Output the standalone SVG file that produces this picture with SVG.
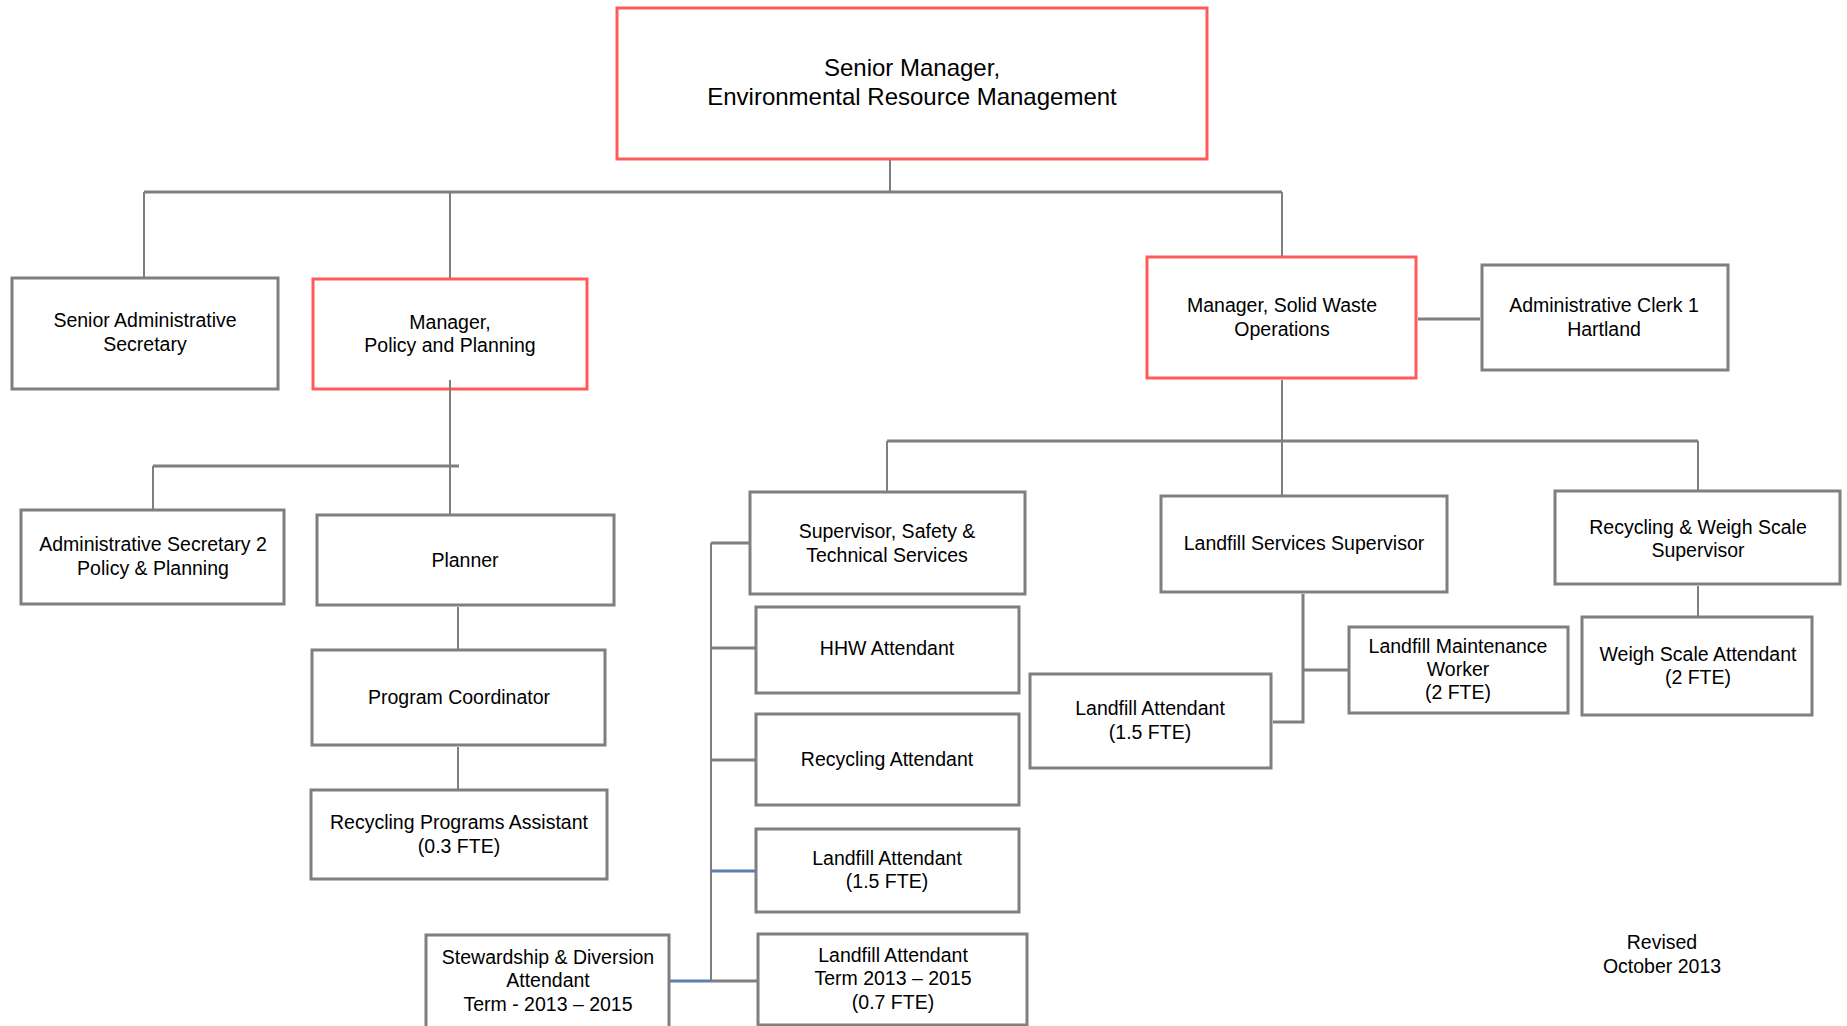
<svg xmlns="http://www.w3.org/2000/svg" width="1847" height="1026" viewBox="0 0 1847 1026">
<style>
.box{fill:#ffffff;stroke:#7f7f7f;stroke-width:3}
.red{fill:#ffffff;stroke:#ff5a5a;stroke-width:3}
text{font-family:"Liberation Sans",Arial,sans-serif;font-size:19.5px;fill:#000;text-anchor:middle}
.big{font-size:24px}
.c{fill:none;stroke:#7f7f7f;stroke-width:3}
.t{fill:none;stroke:#7f7f7f;stroke-width:2}
.b{fill:none;stroke:#5b7fb0;stroke-width:3}
</style>
<rect width="1847" height="1026" fill="#ffffff"/>
<g id="n-senior-manager"><rect class="red" x="617" y="8" width="590" height="151"/><text class="big" x="912" y="76">Senior Manager,</text><text class="big" x="912" y="105">Environmental Resource Management</text></g>
<g id="n-senior-admin-sec"><rect class="box" x="12" y="278" width="266" height="111"/><text x="145" y="327">Senior Administrative</text><text x="145" y="351">Secretary</text></g>
<g id="n-manager-policy"><rect class="red" x="313" y="279" width="274" height="110"/><text x="450" y="329">Manager,</text><text x="450" y="352">Policy and Planning</text></g>
<g id="n-manager-solid-waste"><rect class="red" x="1147" y="257" width="269" height="121"/><text x="1282" y="312">Manager, Solid Waste</text><text x="1282" y="336">Operations</text></g>
<g id="n-admin-clerk"><rect class="box" x="1482" y="265" width="246" height="105"/><text x="1604" y="312">Administrative Clerk 1</text><text x="1604" y="336">Hartland</text></g>
<g id="n-admin-sec-2"><rect class="box" x="21" y="510" width="263" height="94"/><text x="153" y="551">Administrative Secretary 2</text><text x="153" y="575">Policy &amp; Planning</text></g>
<g id="n-planner"><rect class="box" x="317" y="515" width="297" height="90"/><text x="465" y="567">Planner</text></g>
<g id="n-program-coord"><rect class="box" x="312" y="650" width="293" height="95"/><text x="459" y="704">Program Coordinator</text></g>
<g id="n-recycling-prog-asst"><rect class="box" x="311" y="790" width="296" height="89"/><text x="459" y="829">Recycling Programs Assistant</text><text x="459" y="853">(0.3 FTE)</text></g>
<g id="n-supervisor-safety"><rect class="box" x="750" y="492" width="275" height="102"/><text x="887" y="538">Supervisor, Safety &amp;</text><text x="887" y="562">Technical Services</text></g>
<g id="n-landfill-services-sup"><rect class="box" x="1161" y="496" width="286" height="96"/><text x="1304" y="550">Landfill Services Supervisor</text></g>
<g id="n-recycling-weigh-sup"><rect class="box" x="1555" y="491" width="285" height="93"/><text x="1698" y="534">Recycling &amp; Weigh Scale</text><text x="1698" y="557">Supervisor</text></g>
<g id="n-weigh-scale-att"><rect class="box" x="1582" y="617" width="230" height="98"/><text x="1698" y="661">Weigh Scale Attendant</text><text x="1698" y="684">(2 FTE)</text></g>
<g id="n-landfill-maint"><rect class="box" x="1349" y="627" width="219" height="86"/><text x="1458" y="653">Landfill Maintenance</text><text x="1458" y="676">Worker</text><text x="1458" y="699">(2 FTE)</text></g>
<g id="n-landfill-att-right"><rect class="box" x="1030" y="674" width="241" height="94"/><text x="1150" y="715">Landfill Attendant</text><text x="1150" y="739">(1.5 FTE)</text></g>
<g id="n-hhw"><rect class="box" x="756" y="607" width="263" height="86"/><text x="887" y="655">HHW Attendant</text></g>
<g id="n-recycling-att"><rect class="box" x="756" y="714" width="263" height="91"/><text x="887" y="766">Recycling Attendant</text></g>
<g id="n-landfill-att-left"><rect class="box" x="756" y="829" width="263" height="83"/><text x="887" y="865">Landfill Attendant</text><text x="887" y="888">(1.5 FTE)</text></g>
<g id="n-landfill-att-term"><rect class="box" x="758" y="934" width="269" height="91"/><text x="893" y="962">Landfill Attendant</text><text x="893" y="985">Term 2013 – 2015</text><text x="893" y="1009">(0.7 FTE)</text></g>
<g id="n-stewardship"><rect class="box" x="426" y="935" width="243" height="100"/><text x="548" y="964">Stewardship &amp; Diversion</text><text x="548" y="987">Attendant</text><text x="548" y="1011">Term - 2013 – 2015</text></g>
<g id="revised"><text x="1662" y="949">Revised</text><text x="1662" y="973">October 2013</text></g>
<g id="connectors">
<path class="t" d="M890 160 V192"/>
<path class="c" d="M144 192 H1282"/>
<path class="t" d="M144 192 V277"/>
<path class="t" d="M450 192 V278"/>
<path class="t" d="M1282 192 V256"/>
<path class="c" d="M1418 319 H1480"/>
<path class="t" d="M450 380 V514"/>
<path class="c" d="M153 466 H459"/>
<path class="t" d="M153 466 V509"/>
<path class="t" d="M458 607 V649"/>
<path class="t" d="M458 747 V789"/>
<path class="t" d="M1282 380 V495"/>
<path class="c" d="M887 441 H1698"/>
<path class="t" d="M887 441 V491"/>
<path class="t" d="M1698 441 V490"/>
<path class="t" d="M1698 586 V616"/>
<path class="c" d="M1303 594 V722 H1273"/>
<path class="c" d="M1303 670 H1348"/>
<path class="t" d="M711 543 V981"/>
<path class="c" d="M711 543 H749"/>
<path class="c" d="M711 648 H755"/>
<path class="c" d="M711 760 H755"/>
<path class="b" d="M711 871 H755"/>
<path class="c" d="M711 981 H757"/>
<path class="b" d="M670 981 H711"/>
</g>
</svg>
